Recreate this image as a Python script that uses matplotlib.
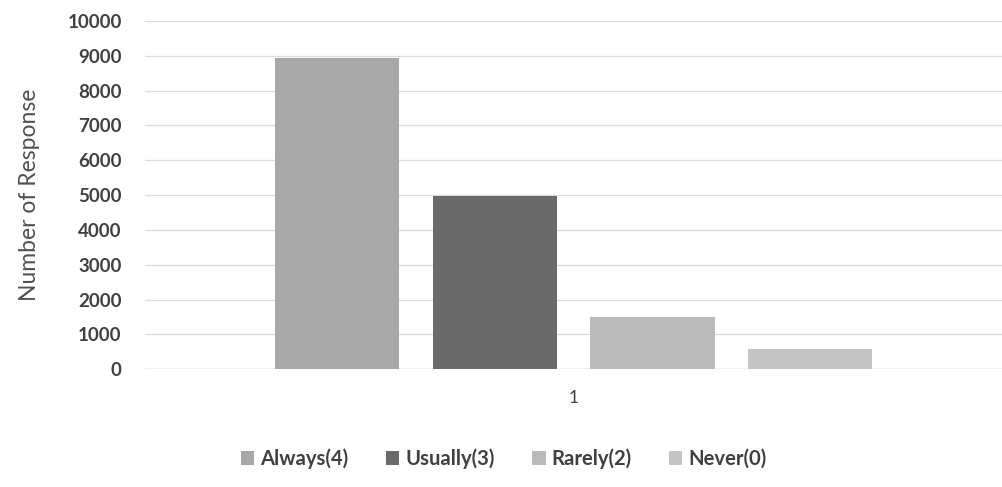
import matplotlib.pyplot as plt
import numpy as np

plt.rcParams['font.family'] = ['Lato', 'DejaVu Sans']

categories = ['1']
series = ['Always(4)', 'Usually(3)', 'Rarely(2)', 'Never(0)']
values = [8950, 4960, 1500, 570]
colors = ['#a8a8a8', '#6a6a6a', '#bababa', '#c4c4c4']
yticks = list(range(0, 10001, 1000))

fig = plt.figure(figsize=(10.02, 4.87), dpi=100)
ax = fig.add_axes([0.145, 0.242, 0.855, 0.715])

x = np.arange(len(categories))
step = 0.184
width = 0.145
for i, (name, val, col) in enumerate(zip(series, values, colors)):
    ax.bar(x + (i - 1.5) * step, [val], width=width, color=col, label=name, zorder=3)

ax.set_xlim(-0.5, 0.5)
ax.set_ylim(0, 10000)
ax.set_yticks(yticks)
ax.set_yticklabels([str(t) for t in yticks], fontsize=13.5, fontweight='bold', color='#404040')
ax.set_xticks(x)
ax.set_xticklabels(categories, fontsize=12.5, color='#404040')
ax.tick_params(axis='y', length=0, pad=17)
ax.tick_params(axis='x', length=0, pad=15)
ax.grid(axis='y', color='#dcdcdc', linewidth=0.9, zorder=0)
for s in ax.spines.values():
    s.set_visible(False)
ax.axhline(0, color='#d0d0d0', linewidth=1, zorder=2)
ax.set_ylabel('Number of Response', fontsize=16.5, color='#505050', labelpad=20)

fig.legend(*ax.get_legend_handles_labels(), loc='center', bbox_to_anchor=(0.503, 0.058), ncol=4,
           frameon=False, prop={'weight': 'bold', 'size': 14.6}, labelcolor='#404040',
           handlelength=0.65, handleheight=0.65, handletextpad=0.3, columnspacing=1.85)

fig.savefig('out.png', dpi=100, facecolor='white')
